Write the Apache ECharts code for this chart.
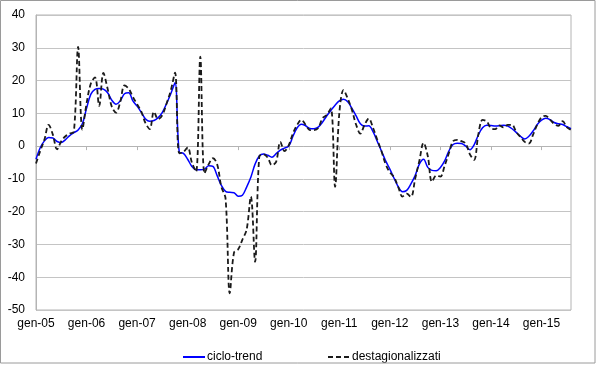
<!DOCTYPE html>
<html>
<head>
<meta charset="utf-8">
<script src="https://cdn.jsdelivr.net/npm/echarts@6/dist/echarts.min.js"></script>
<style>html,body{margin:0;padding:0;background:#fff}#c{width:600px;height:365px}</style>
</head>
<body>
<div id="c"></div>
<script>
var monthNames = ['gen','feb','mar','apr','mag','giu','lug','ago','set','ott','nov','dic'];
var years = ['05','06','07','08','09','10','11','12','13','14','15'];
var categories = [];
years.forEach(function (y) { monthNames.forEach(function (m) { categories.push(m + '-' + y); }); });
categories = categories.slice(0, 128); // gen-05 .. ago-15

var cicloTrend = [
  -4.0, -0.5, 1.6, 2.6, 2.5, 1.4, 1.1, 2.0, 3.2, 4.1, 4.9, 6.8,
  11.5, 15.8, 17.3, 17.6, 17.4, 16.3, 14.0, 12.8, 13.8, 16.0, 16.3, 13.8,
  12.2, 10.3, 8.3, 7.6, 7.8, 8.7, 10.3, 13.0, 16.0, 19.3, -1.8, -2.2,
  -4.0, -6.2, -7.2, -7.2, -7.0, -6.0, -6.2, -9.0, -12.0, -13.8, -14.1, -14.2,
  -15.3, -15.0, -12.5, -9.5, -5.5, -3.0, -2.4, -2.8, -3.4, -2.3, -1.2, -0.6,
  0.0, 3.0, 5.6, 6.7, 6.2, 5.4, 5.3, 5.8, 7.3, 9.2, 10.9, 12.5,
  13.8, 14.3, 13.5, 11.5, 9.2, 6.8, 6.1, 6.2, 4.4, 1.5, -1.5, -4.5,
  -7.0, -9.8, -12.4, -13.9, -13.5, -11.5, -9.0, -5.5, -4.0, -6.5, -7.4, -7.5,
  -6.5, -4.5, -1.5, 0.5, 0.9, 0.8, 0.0, -1.1, 0.4, 3.4, 5.6, 6.4,
  6.3, 6.1, 6.2, 6.4, 6.1, 5.3, 4.2, 3.0, 2.2, 3.0, 4.6, 6.6,
  7.9, 8.5, 8.1, 7.2, 6.8, 6.6, 5.9, 5.3
];

var destagionalizzati = [
  -5.3, -1.5, 2.0, 6.5, 3.5, -1.0, 1.5, 3.0, 3.8, 4.4, 30.3, 5.0,
  13.0, 19.0, 21.0, 12.3, 22.3, 17.5, 12.0, 10.2, 13.5, 18.5, 17.5, 15.0,
  12.8, 10.5, 7.0, 5.2, 10.5, 8.2, 9.5, 13.0, 17.0, 22.4, -2.2, -1.8,
  -0.4, -5.0, -7.8, 27.3, -8.3, -5.5, -3.7, -5.5, -12.4, -16.0, -44.9, -32.5,
  -31.5, -28.5, -25.5, -15.4, -35.3, -3.2, -2.5, -3.5, -5.8, -4.8, 1.3, -1.5,
  0.3, 3.9, 6.5, 8.0, 6.5, 4.9, 4.9, 5.5, 8.5, 9.5, 11.5, -12.4,
  10.0, 17.1, 14.5, 11.0, 6.5, 3.8, 6.5, 8.4, 5.6, 2.0, -1.5, -5.5,
  -8.0, -9.5, -12.5, -15.4, -14.5, -15.5, -10.0, -4.5, 1.0, -3.0, -10.9, -9.0,
  -9.3, -6.0, -2.2, 1.5, 1.9, 1.5, 0.8, -2.5, -4.2, 3.5, 8.0, 7.5,
  5.5, 5.2, 6.3, 5.7, 6.5, 6.5, 4.3, 2.8, 1.3, 0.8, 3.5, 6.6,
  8.8, 9.2, 8.1, 6.8, 6.2, 7.6, 5.8, 4.9
];

var yMin = -50, yMax = 40, yStep = 10;

var chart = echarts.init(document.getElementById('c'), null, {renderer: 'canvas'});
var font = 'Liberation Sans, Arial, sans-serif';
chart.setOption({
  animation: false,
  backgroundColor: '#fff',
  graphic: [{
    type: 'rect', silent: true, z: 100,
    shape: {x: 0.5, y: 0.5, width: 594.5, height: 362.5},
    style: {fill: 'none', stroke: '#9a9a9a', lineWidth: 1}
  }],
  grid: {left: 36, right: 29, top: 15, bottom: 55, show: true, borderColor: '#b4b4b4', borderWidth: 1, backgroundColor: 'transparent'},
  legend: [
    {data: ['ciclo-trend'], left: 177, top: 346, itemWidth: 22, itemHeight: 12, itemGap: 0,
     itemStyle: {opacity: 0},
     textStyle: {fontFamily: font, fontSize: 12, color: '#000', padding: [0, 0, 0, -3]}},
    {data: ['destagionalizzati'], left: 322, top: 346, itemWidth: 22, itemHeight: 12, itemGap: 0,
     itemStyle: {opacity: 0},
     textStyle: {fontFamily: font, fontSize: 12, color: '#000', padding: [0, 0, 0, -3]}}
  ],
  xAxis: [{
    type: 'category', data: categories, boundaryGap: false, position: 'bottom',
    axisLine: {show: false, onZero: false},
    axisTick: {show: false},
    axisLabel: {interval: 11, fontFamily: font, fontSize: 12, color: '#000', margin: 8},
    splitLine: {show: false}
  }, {
    type: 'category', data: categories, boundaryGap: false, position: 'bottom',
    axisLine: {show: true, onZero: true, lineStyle: {color: '#b4b4b4', width: 1}},
    axisTick: {show: true, interval: 11, length: 4, lineStyle: {color: '#b4b4b4'}},
    axisLabel: {show: false},
    splitLine: {show: false}
  }],
  yAxis: {
    type: 'value', min: yMin, max: yMax, interval: yStep,
    axisLine: {show: true, lineStyle: {color: '#b4b4b4'}},
    axisTick: {show: false},
    axisLabel: {fontFamily: font, fontSize: 12, color: '#000', margin: 11},
    splitLine: {show: true, lineStyle: {color: '#c4c4c4', width: 1}}
  },
  series: [{
    name: 'ciclo-trend', type: 'line', data: cicloTrend, xAxisIndex: 0,
    symbol: 'none', smooth: 0.35, z: 2,
    lineStyle: {color: '#0000ff', width: 1.5}, itemStyle: {color: '#0000ff'}
  }, {
    name: 'destagionalizzati', type: 'line', data: destagionalizzati, xAxisIndex: 0,
    symbol: 'none', smooth: 0.35, z: 3,
    lineStyle: {color: '#1a1a1a', width: 1.8, type: [5, 3]}, itemStyle: {color: '#1a1a1a'}
  }]
});
</script>
</body>
</html>
